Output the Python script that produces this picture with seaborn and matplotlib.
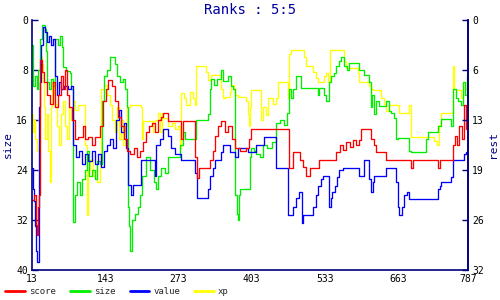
import matplotlib
matplotlib.use("Agg")
import matplotlib.pyplot as plt
import seaborn as sns
import pandas as pd

# ---------------- data ----------------
title = "Ranks : 5:5"
x_ticks = [13, 143, 273, 403, 533, 663, 787]
left_ticks = [0, 8, 16, 24, 32, 40]
right_ticks = [0, 6.4, 12.8, 19.2, 25.6, 32]
right_tick_labels = ["0", "6", "13", "19", "26", "32"]

score_x = [13, 17, 20, 22, 24, 25, 27, 31, 34, 40, 45, 50, 54, 59, 64, 68, 72, 75, 79, 84, 89, 95,
           104, 107, 112, 120, 125, 134, 139, 144, 148, 155, 160, 166, 171, 176, 182, 187, 194, 199,
           205, 210, 215, 221, 226, 231, 237, 242, 246, 254, 278, 281, 302, 306, 309, 329, 334, 338,
           343, 349, 356, 361, 368, 373, 382, 393, 398, 402, 469, 476, 489, 494, 499, 506, 522, 553,
           560, 565, 570, 578, 583, 588, 594, 597, 615, 620, 624, 641, 686, 689, 734, 737, 760, 764,
           768, 771, 776, 780, 783, 787]
score_y = [28.8, 28, 32.8, 34.4, 30, 28, 6.4, 8.3, 10, 12, 13.5, 10, 14, 12, 9, 11, 8, 12, 14, 16, 19,
           18.7, 17, 19, 18.7, 20, 18.7, 17, 13, 11, 9.6, 10.5, 13, 15.5, 17, 19, 21, 21.5, 20.5, 22,
           21, 19.5, 18, 17, 16.5, 18, 16, 15.5, 14.9, 16.2, 19, 16.2, 22, 25.3, 23.7, 22.4, 21, 18.5,
           17, 16.2, 18, 17, 19, 20.5, 21, 20.5, 19, 17.4, 23.7, 21.2, 22.4, 23.5, 25, 23.7, 22.4, 21.2,
           20, 20.8, 19.5, 20.3, 19.2, 20, 19.2, 17.4, 19, 20, 21.1, 22.4, 23.7, 22.4, 23.7, 22.4, 20,
           18.5, 20, 17, 19, 13.6, 17.4, 17.4]

value_x = [13, 15, 17, 18, 20, 22, 25, 27, 29, 33, 36, 40, 43, 47, 50, 54, 57, 61, 64, 70, 77, 82, 86,
           91, 96, 102, 107, 112, 120, 125, 130, 135, 141, 146, 151, 157, 162, 167, 171, 176, 180, 183,
           189, 192, 206, 231, 233, 240, 246, 254, 260, 267, 278, 302, 306, 325, 329, 334, 338, 349,
           352, 364, 373, 379, 396, 411, 425, 446, 467, 476, 482, 487, 492, 494, 512, 517, 521, 526,
           530, 540, 544, 546, 551, 554, 558, 565, 594, 602, 611, 615, 618, 620, 641, 659, 663, 665,
           670, 673, 679, 682, 734, 737, 739, 757, 760, 780, 783, 787]
value_y = [23.7, 27, 29, 33, 37, 38.7, 14, 10, 4, 1.1, 2, 3.5, 2.5, 4, 3, 9, 12, 10, 11, 10.5, 11, 10.5,
           20, 22, 21, 23, 21.5, 22.5, 21, 23, 21.5, 23.5, 21, 20, 19, 20.5, 16, 14.4, 18, 16.5, 20.5,
           26.4, 28, 26.4, 22.4, 25, 20, 19, 17.4, 18.5, 20.5, 21.5, 22.4, 24.5, 28.5, 27, 25, 23.7,
           22.4, 21.1, 20, 21.1, 22, 20.5, 21.1, 20, 18.7, 23.7, 31.2, 30, 28.5, 27.5, 32.5, 31.2, 30,
           28, 26.5, 25.5, 25, 30, 28.5, 27.5, 26.5, 25.1, 24, 23.7, 25, 22.4, 25.5, 27.5, 26, 25, 23.7,
           26, 30, 31.2, 30, 28, 27.5, 28.6, 27, 26.5, 26, 25.1, 22.4, 21.4, 21.1, 21.1]

size_x = [13, 15, 18, 22, 24, 27, 31, 36, 38, 40, 43, 47, 50, 54, 59, 63, 66, 68, 73, 80, 82, 86, 89,
          93, 98, 102, 107, 111, 114, 120, 125, 128, 134, 137, 141, 146, 151, 157, 160, 164, 169, 175,
          178, 182, 183, 185, 187, 191, 196, 201, 205, 208, 215, 222, 230, 233, 237, 242, 249, 254,
          276, 281, 285, 304, 325, 329, 331, 336, 341, 349, 352, 361, 366, 370, 373, 377, 379, 380,
          382, 400, 402, 407, 411, 418, 423, 430, 439, 446, 453, 460, 466, 469, 473, 476, 482, 491,
          521, 522, 531, 535, 540, 544, 549, 553, 558, 562, 567, 572, 576, 594, 602, 611, 615, 617,
          620, 624, 629, 641, 647, 650, 656, 659, 663, 682, 686, 712, 716, 734, 739, 757, 760, 766,
          769, 775, 778, 782, 785, 787]
size_y = [4, 10.5, 9, 11, 8, 3, 0.8, 1.5, 5, 10, 11, 9.5, 10.5, 3, 4, 2.6, 4.3, 7.5, 8.2, 8.5, 11, 32.3,
          28, 26, 28, 25.5, 24, 21, 25, 24, 25.5, 22.5, 23, 13, 9, 8, 6, 5.9, 7, 9, 10, 9.5, 11, 14, 30,
          33, 37, 32, 31, 30, 28, 25, 22, 24, 26, 27, 25, 23.7, 24.5, 22, 20, 18, 19, 16, 15, 11, 9.5,
          10.4, 9.5, 8, 9.8, 9, 10.5, 11, 28, 31, 32, 28, 27, 22, 20.5, 21, 21.5, 22, 20, 20.5, 19.5,
          16.5, 16, 16.8, 14.9, 11, 12.5, 11, 9, 10.9, 12, 10.9, 12, 13, 10, 9, 8.5, 7.4, 6.5, 6, 7.4,
          8, 6.9, 8, 8.8, 10, 14, 12, 15, 13, 13.8, 13, 14.5, 14.9, 15.7, 19, 18.9, 21, 21.1, 19, 17.9,
          17, 15.8, 16.9, 11, 12.5, 13, 13.6, 10, 12, 9, 9]

xp_x = [13, 15, 17, 18, 22, 25, 27, 31, 33, 34, 36, 40, 41, 45, 47, 49, 52, 54, 57, 61, 64, 68, 72,
        75, 79, 82, 86, 89, 95, 107, 111, 112, 116, 121, 125, 128, 134, 135, 141, 146, 151, 155, 160,
        164, 167, 171, 175, 178, 182, 187, 206, 208, 210, 228, 231, 237, 240, 244, 246, 254, 262, 267,
        272, 276, 278, 283, 286, 293, 299, 302, 304, 322, 325, 331, 349, 352, 356, 364, 366, 372, 373,
        379, 393, 396, 398, 400, 402, 420, 423, 428, 432, 441, 446, 450, 467, 469, 473, 496, 499, 512,
        517, 521, 531, 535, 538, 542, 567, 570, 592, 594, 611, 615, 618, 633, 638, 641, 647, 665, 682,
        686, 727, 732, 736, 739, 760, 762, 766, 775, 778, 782, 785, 787]
xp_y = [15, 18, 16, 19, 21, 20, 6, 7, 10, 14, 19, 15, 21, 26, 14, 10, 12, 13.5, 17, 20, 15, 13, 17, 19,
        14, 16, 13, 14.4, 13.6, 20, 31.2, 24, 22.4, 25, 24, 26, 22, 11, 10.4, 12, 13.6, 16, 18, 14,
        19, 16, 20, 17, 14, 13.6, 14, 19, 16.2, 18, 16, 14.9, 18, 14.9, 15.7, 17, 16.5, 17.5, 17,
        20.5, 11.7, 12.5, 13.6, 11.5, 12.5, 13.6, 7.4, 8.3, 9.6, 8.8, 11, 12.5, 12.3, 11.5, 10.4,
        11.2, 12, 12.3, 13, 15, 17, 14, 11.2, 16, 14, 15.2, 12.5, 13.5, 12.5, 9.9, 12.5, 5.5, 4.8, 6,
        7.4, 8.3, 9.3, 10, 9, 8.5, 9.9, 4.8, 6.6, 7.7, 8.5, 9.9, 10.5, 11, 11.2, 12.5, 13.5, 14.5,
        13.6, 14.9, 13.6, 18.8, 19.4, 20, 16.8, 14.9, 7.4, 11, 11.2, 12.5, 10, 11, 9.5, 9.5]

series_names = ["score", "size", "value", "xp"]
series_colors = ["#ff0000", "#00ee00", "#0000ff", "#ffff00"]

# ---------------- build table ----------------
frames = []
for name, xs, ys in [("score", score_x, score_y), ("size", size_x, size_y),
                     ("value", value_x, value_y), ("xp", xp_x, xp_y)]:
    frames.append(pd.DataFrame({"x": xs, "y": ys, "series": name}))
df = pd.concat(frames, ignore_index=True)

# ---------------- style ----------------
sns.set_style("white")
plt.rcParams["font.family"] = ["DejaVu Sans Mono", "DejaVu Sans"]
navy = "#000080"

fig = plt.figure(figsize=(5, 3), dpi=100)
ax = fig.add_axes([0.064, 0.1, 0.872, 0.8334])

order = ["xp", "size", "value", "score"]
pal = dict(zip(series_names, series_colors))
for name in order:
    sns.lineplot(data=df[df["series"] == name], x="x", y="y", ax=ax, color=pal[name],
                 drawstyle="steps-post", linewidth=0.95, estimator=None, sort=True, legend=False)

ax.set_xlim(13, 787)
ax.set_ylim(40, 0)
ax.set_xticks(x_ticks)
ax.set_xticklabels([str(t) for t in x_ticks])
ax.set_yticks(left_ticks)
ax.set_yticklabels([str(t) for t in left_ticks])
ax.set_xlabel("")
ax.set_ylabel("size", color=navy, fontsize=8, labelpad=2)

for side in ["left", "bottom", "right"]:
    ax.spines[side].set_color(navy)
    ax.spines[side].set_linewidth(1.2)
ax.spines["top"].set_visible(False)
ax.tick_params(axis="both", direction="in", length=4, width=1, color=navy,
               labelsize=7, labelcolor="black", pad=3)

ax2 = ax.twinx()
ax2.set_ylim(32, 0)
ax2.set_yticks(right_ticks)
ax2.set_yticklabels(right_tick_labels)
ax2.set_ylabel("rest", color=navy, fontsize=8, labelpad=3)
for side in ["left", "bottom", "top"]:
    ax2.spines[side].set_visible(False)
ax2.spines["right"].set_color(navy)
ax2.spines["right"].set_linewidth(1.2)
ax2.tick_params(axis="y", direction="in", length=4, width=1, color=navy,
                labelsize=7, labelcolor="black", pad=3)

fig.text(0.5, 0.965, title, ha="center", va="center", color="#0000a0", fontsize=10,
         fontweight="light")

handles = [plt.Line2D([0], [0], color=c, linewidth=2) for c in series_colors]
fig.legend(handles, series_names, loc="lower left", bbox_to_anchor=(0.0, -0.005), ncol=4,
           fontsize=6.5, frameon=False, handlelength=2.2, handletextpad=0.4, columnspacing=1.6,
           borderaxespad=0.2)

fig.savefig("out.png", dpi=100)
